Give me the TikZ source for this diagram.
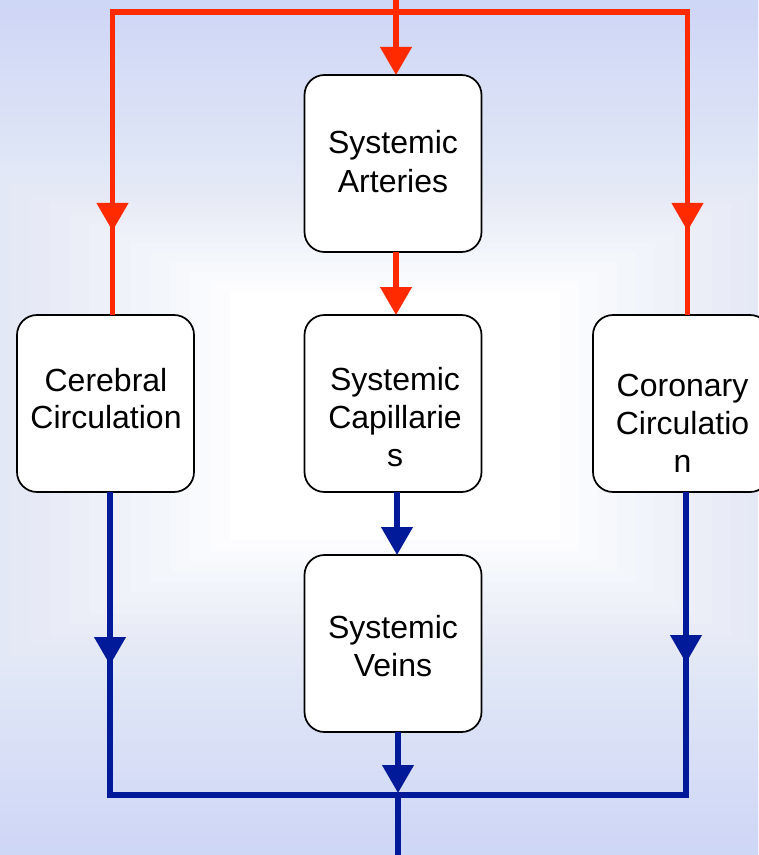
\documentclass[tikz,border=0pt]{standalone}
\usepackage{fontspec}
\setmainfont{Liberation Sans}
\usetikzlibrary{arrows.meta}

\definecolor{bgtint}{RGB}{204,215,246}
\definecolor{artred}{RGB}{255,42,0}
\definecolor{veinblue}{RGB}{0,26,153}

\tikzset{
  organ/.style={draw=black, line width=1.3pt, fill=white, rounded corners=15pt,
    minimum width=132.75pt, minimum height=132.75pt, inner sep=0pt, outer sep=0pt},
  lbl/.style={anchor=base, inner sep=0pt, font=\fontsize{24pt}{28.5pt}\selectfont},
  redline/.style={draw=artred, line width=4pt},
  blueline/.style={draw=veinblue, line width=4pt},
  tip/.style={-{Triangle[width=23pt,length=21pt]}},
}

\begin{document}
\begin{tikzpicture}[x=0.75pt, y=-0.75pt]
\useasboundingbox (0,0) rectangle (758,855);

% soft blue backdrop fading to white towards the middle
\begin{scope}
  \clip (0,0) rectangle (758,855);
  \fill[white] (0,0) rectangle (758,855);
  \foreach \i in {0,...,29} {
    \pgfmathsetmacro\yt{(\i+1)*9.7}
    \pgfmathsetmacro\yb{855-(\i+1)*10.5}
    \pgfmathsetmacro\xl{(\i+1)*20-370}
    \pgfmathsetmacro\xr{758-((\i+1)*19-372)}
    \fill[bgtint, fill opacity=0.05, even odd rule]
      (-500,-20) rectangle (1300,880) (\xl,\yt) rectangle (\xr,\yb);
  }
\end{scope}

% vessel boxes
\node[organ] (art) at (393,163.5) {};
\node[organ] (cap) at (393,403.5) {};
\node[organ] (vein) at (393,643.5) {};
\node[organ] (cer) at (105.5,403.5) {};
\node[organ] (cor) at (681.5,403.5) {};

% labels, one node per printed line
\node[lbl] (art1) at (393,154) {Systemic};
\node[lbl] (art2) at (393,192.5) {Arteries};
\node[lbl] (cap1) at (395,390) {Systemic};
\node[lbl] (cap2) at (395,428.3) {Capillarie};
\node[lbl] (cap3) at (395,466.5) {s};
\node[lbl] (vein1) at (393,638.3) {Systemic};
\node[lbl] (vein2) at (393,676.7) {Veins};
\node[lbl] (cer1) at (106,391) {Cerebral};
\node[lbl] (cer2) at (106,428.5) {Circulation};
\node[lbl] (cor1) at (682.5,396.7) {Coronary};
\node[lbl] (cor2) at (682.5,434) {Circulatio};
\node[lbl] (cor3) at (682.5,472) {n};

% junction points of the arterial and venous trunks
\coordinate (srcT) at (396,0);
\coordinate (rL) at (112.5,12);
\coordinate (rR) at (687.5,12);
\coordinate (rLa) at (112.5,231);
\coordinate (rRa) at (687.5,231);
\coordinate (bL) at (110,795);
\coordinate (bR) at (686,795);
\coordinate (bM) at (398,795);
\coordinate (bMa) at (398,793);
\coordinate (bLa) at (110,665);
\coordinate (bRa) at (686,663);
\coordinate (sinkB) at (398,855);

% arterial supply (red)
\draw[redline] (cer.north -| rL) -- (rL) -- (rR) -- (cor.north -| rR);
\draw[redline, tip] (rL) -- (rLa);
\draw[redline, tip] (rR) -- (rRa);
\draw[redline, tip] (srcT) -- (art.north -| srcT);
\draw[redline, tip] (art.south -| srcT) -- (cap.north -| srcT);

% venous return (blue)
\draw[blueline] (cer.south -| bL) -- (bL) -- (bR) -- (cor.south -| bR);
\draw[blueline, tip] (cer.south -| bL) -- (bLa);
\draw[blueline, tip] (cor.south -| bR) -- (bRa);
\draw[blueline, tip] ([xshift=3pt]cap.south) -- ([xshift=3pt]vein.north);
\draw[blueline, tip] (vein.south -| bM) -- (bMa);
\draw[blueline] (bM) -- (sinkB);
\end{tikzpicture}
\end{document}
